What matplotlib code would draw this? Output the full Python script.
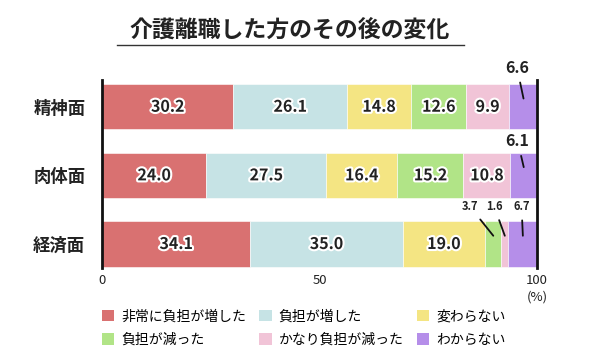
import matplotlib
matplotlib.use("Agg")
import matplotlib.pyplot as plt
import matplotlib.patheffects as pe
from matplotlib.patches import Patch
from matplotlib.lines import Line2D
import numpy as np

plt.rcParams['font.family'] = ['Noto Sans CJK JP', 'DejaVu Sans']

# data
rows = ['精神面', '肉体面', '経済面']
series = ['非常に負担が増した', '負担が増した', '変わらない',
          '負担が減った', 'かなり負担が減った', 'わからない']
values = [
    [30.2, 26.1, 14.8, 12.6, 9.9, 6.6],
    [24.0, 27.5, 16.4, 15.2, 10.8, 6.1],
    [34.1, 35.0, 19.0, 3.7, 1.6, 6.7],
]
colors = ['#d97171', '#c6e3e5', '#f4e583', '#b1e487', '#f1c4d7', '#b58ee9']
title = '介護離職した方のその後の変化'

# small segments get an outside label: (row, series) -> x offset of label
outside = {(0, 5): -1.5, (1, 5): -1.4, (2, 3): -5.3, (2, 4): -2.4, (2, 5): -0.3}
outside_dy = {0: 0.57, 1: 0.5, 2: 0.54}

fig = plt.figure(figsize=(5.94, 3.53), dpi=100)
ax = fig.add_axes([102 / 594, 1 - 268 / 353, 435 / 594, 188 / 353])

vals = np.array(values)
y = np.arange(len(rows))
left = np.zeros(len(rows))
stroke = [pe.withStroke(linewidth=3, foreground='white')]
for j, name in enumerate(series):
    ax.barh(y, vals[:, j], left=left, height=0.66, color=colors[j],
            edgecolor='white', linewidth=0.4, label=name)
    for i in range(len(rows)):
        v = vals[i, j]
        cx = left[i] + v / 2
        if (i, j) in outside:
            small = i == 2
            ax.annotate(f'{v:.1f}', xy=(cx, y[i] - 0.12),
                        xytext=(cx + outside[(i, j)], y[i] - outside_dy[i]),
                        ha='center', va='center',
                        fontsize=8 if small else 11.5,
                        fontweight='bold', color='#222222',
                        arrowprops=dict(arrowstyle='-', lw=1.3, color='#111111',
                                        shrinkA=3, shrinkB=0))
        else:
            ax.text(cx, y[i], f'{v:.1f}', ha='center', va='center',
                    fontsize=11.5, fontweight='bold', color='#222222',
                    path_effects=stroke)
    left += vals[:, j]

ax.set_xlim(0, 100)
ax.set_ylim(2.35, -0.39)
ax.set_yticks(y)
ax.set_yticklabels(rows, fontsize=12.5, fontweight='bold', color='#222222')
ax.set_xticks([0, 50, 100])
ax.set_xticklabels(['0', '50', '100'], fontsize=9.5, color='#222222')
ax.tick_params(axis='both', length=0)
ax.tick_params(axis='y', pad=12)
ax.tick_params(axis='x', pad=4)
for s in ['top', 'bottom']:
    ax.spines[s].set_visible(False)
for s in ['left', 'right']:
    ax.spines[s].set_linewidth(2)
    ax.spines[s].set_color('#111111')
ax.text(100, -0.155, '(%)', transform=ax.get_xaxis_transform(), ha='center',
        va='center', fontsize=9.5, color='#222222')

# title with underline
fig.text(290 / 594, 1 - 30 / 353, title, ha='center', va='center',
         fontsize=16.5, fontweight='bold', color='#222222')
fig.add_artist(Line2D([117 / 594, 464 / 594], [1 - 45 / 353, 1 - 45 / 353],
                      transform=fig.transFigure, color='#333333', lw=1))

# legend is filled row by row in the reference
order = [0, 3, 1, 4, 2, 5]
handles = [Patch(facecolor=colors[k], edgecolor='none') for k in order]
labels = [series[k] for k in order]
fig.legend(handles, labels, ncol=3, loc='upper left',
           bbox_to_anchor=(89 / 594, 1 - 297 / 353), frameon=False,
           fontsize=10, handlelength=0.9, handleheight=0.9,
           handletextpad=0.5, columnspacing=0.95, labelspacing=0.65)

fig.savefig('out.png', dpi=100)
